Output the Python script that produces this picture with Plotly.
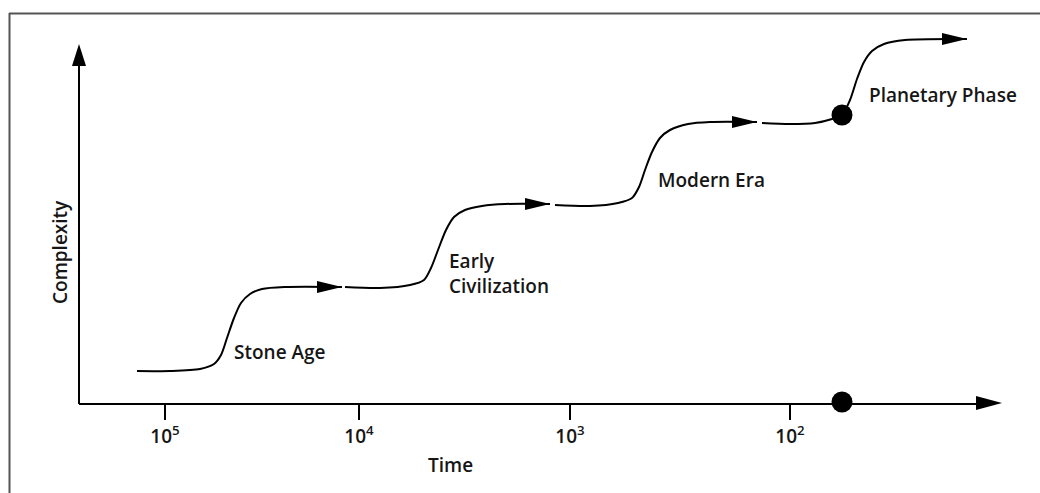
import plotly.graph_objects as go

W, H = 1040, 493
L, R, T, B = 79, 63, 20, 90
PW, PH = W - L - R, H - T - B

# ---- data (x = time position, y = complexity level, arbitrary schematic units) ----
tick_vals = [165, 359, 570, 790]
tick_text = ["10<sup>5</sup>", "10<sup>4</sup>", "10<sup>3</sup>", "10<sup>2</sup>"]

stone_x = [137, 170, 200, 214, 221, 227, 234, 241, 250, 262, 285, 342]
stone_y = [122, 122, 124, 129, 138, 155, 175, 190, 199, 204, 206, 206]

early_x = [345, 380, 410, 424, 431, 438, 446, 454, 465, 482, 505, 550]
early_y = [206, 205, 208, 213, 225, 243, 263, 276, 283, 287, 289, 289]

modern_x = [555, 590, 618, 632, 639, 645, 652, 660, 670, 688, 710, 757]
modern_y = [288, 287, 290, 295, 306, 323, 341, 355, 363, 369, 371, 371]

planet_x = [762, 790, 815, 832, 842, 850, 857, 864, 872, 884, 905, 967]
planet_y = [370, 369, 370, 374, 378, 393, 414, 431, 442, 449, 453, 454]

dot_x = [842, 842]
dot_y = [378, 91]

label_text = ["Stone Age", "Early<br>Civilization", "Modern Era", "Planetary Phase"]
label_x = [232, 447, 656, 867]
label_y = [141, 220, 313, 398]

segments = [(stone_x, stone_y), (early_x, early_y), (modern_x, modern_y), (planet_x, planet_y)]

X0, X1 = L, W - R          # x range in data units
Y0, Y1 = B, H - T          # y range in data units


def px(xpix):
    return (xpix - L) / PW


def py(ypix):
    return (H - B - ypix) / PH


FONT = dict(family="Open Sans, Liberation Sans, sans-serif", size=19, color="#161616", weight=600)

fig = go.Figure()
for sx, sy in segments:
    fig.add_trace(go.Scatter(x=sx, y=sy, mode="lines",
                             line=dict(color="black", width=2, shape="spline", smoothing=0.8),
                             cliponaxis=False, hoverinfo="skip", showlegend=False))
fig.add_trace(go.Scatter(x=dot_x, y=dot_y, mode="markers",
                         marker=dict(color="black", size=21, symbol="circle"),
                         cliponaxis=False, hoverinfo="skip", showlegend=False))

shapes = []
# arrowheads at the end of each growth curve (data -> paper so they are never clipped)
for sx, sy in segments:
    tx, ty = sx[-1], sy[-1]
    tpx, tpy = tx, H - ty
    shapes.append(dict(type="path", xref="paper", yref="paper",
                       path=(f"M {px(tpx)},{py(tpy)} L {px(tpx-25)},{py(tpy-6)} "
                             f"L {px(tpx-25)},{py(tpy+6)} Z"),
                       fillcolor="black", line=dict(color="black", width=0)))
# vertical (complexity) axis line + arrowheads
shapes.append(dict(type="line", xref="paper", yref="paper", x0=px(79), x1=px(79), y0=py(404), y1=py(58),
                   line=dict(color="black", width=2)))
shapes.append(dict(type="path", xref="paper", yref="paper",
                   path=f"M {px(1002)},{py(403)} L {px(976)},{py(396)} L {px(976)},{py(410)} Z",
                   fillcolor="black", line=dict(width=0)))
shapes.append(dict(type="path", xref="paper", yref="paper",
                   path=f"M {px(79)},{py(44)} L {px(72)},{py(66)} L {px(86)},{py(66)} Z",
                   fillcolor="black", line=dict(width=0)))
# frame
shapes.append(dict(type="line", xref="paper", yref="paper", x0=px(9), x1=px(1040), y0=py(13.5), y1=py(13.5),
                   line=dict(color="#555", width=2)))
shapes.append(dict(type="line", xref="paper", yref="paper", x0=px(9.5), x1=px(9.5), y0=py(13), y1=py(493),
                   line=dict(color="#555", width=2)))

annotations = []
for t, x, y in zip(label_text, label_x, label_y):
    annotations.append(dict(text=t, x=x, y=y, xref="x", yref="y", xanchor="left", yanchor="middle",
                            align="left", showarrow=False, font=FONT))
annotations.append(dict(text="Time", x=px(450), y=py(465), xref="paper", yref="paper",
                        xanchor="center", yanchor="middle", showarrow=False, font=FONT))
annotations.append(dict(text="Complexity", x=px(60), y=py(252), xref="paper", yref="paper",
                        xanchor="center", yanchor="middle", showarrow=False, textangle=-90, font=FONT))

fig.update_layout(
    width=W, height=H, margin=dict(l=L, r=R, t=T, b=B, pad=0),
    paper_bgcolor="white", plot_bgcolor="white",
    shapes=shapes, annotations=annotations,
    xaxis=dict(range=[X0, X1], showgrid=False, zeroline=False, showline=True, linecolor="black",
               linewidth=2, ticks="outside", ticklen=15, tickwidth=2, tickcolor="black",
               tickvals=tick_vals, ticktext=tick_text, tickfont=FONT, fixedrange=True),
    yaxis=dict(range=[Y0, Y1], showgrid=False, zeroline=False, showline=False,
               showticklabels=False, ticks="", fixedrange=True),
)

fig.write_html("out.html", config={"displayModeBar": False},
               post_script="document.body.style.margin='0';document.body.style.padding='0';")
